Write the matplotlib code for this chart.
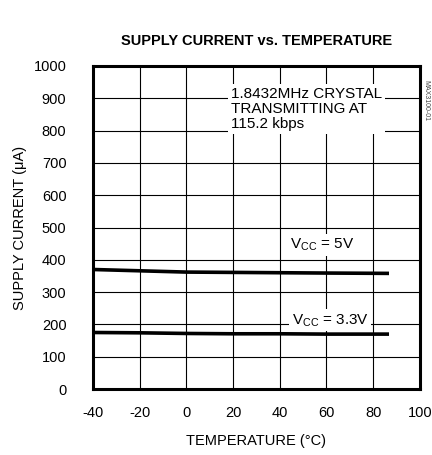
import matplotlib.pyplot as plt

plt.rcParams['font.family'] = ['Liberation Sans', 'DejaVu Sans']
plt.rcParams['axes.unicode_minus'] = False

# data
temp_5v = [-40, -20, 0, 20, 40, 60, 86]
icc_5v = [370, 366, 362, 361, 360, 359, 358]
temp_33v = [-40, -20, 0, 20, 40, 60, 86]
icc_33v = [175, 174, 172, 171, 171, 170, 170]

x_ticks = [-40, -20, 0, 20, 40, 60, 80, 100]
y_ticks = [0, 100, 200, 300, 400, 500, 600, 700, 800, 900, 1000]

fig = plt.figure(figsize=(4.32, 4.55), dpi=100)
ax = fig.add_axes([0.215, 0.145, 0.757, 0.71])

ax.plot(temp_5v, icc_5v, color='black', lw=2.6, zorder=3)
ax.plot(temp_33v, icc_33v, color='black', lw=2.6, zorder=3)

ax.set_xlim(-40, 100)
ax.set_ylim(0, 1000)
ax.set_xticks(x_ticks)
ax.set_yticks(y_ticks)
ax.grid(True, color='black', lw=0.8)
ax.tick_params(length=0, labelsize=10.5)
ax.tick_params(axis='y', pad=19)
ax.tick_params(axis='x', pad=12)
for s in ax.spines.values():
    s.set_linewidth(2.2)

ax.set_xlabel('TEMPERATURE (°C)', fontsize=10.5, labelpad=10)
ax.set_ylabel('SUPPLY CURRENT (μA)', fontsize=10.5, labelpad=5)
ax.set_title('SUPPLY CURRENT vs. TEMPERATURE', fontsize=10.5, fontweight='bold', pad=15)

box = dict(facecolor='white', edgecolor='none', pad=2)
ax.text(19, 935, '1.8432MHz CRYSTAL\nTRANSMITTING AT\n115.2 kbps', fontsize=11,
        ha='left', va='top', linespacing=1.1, bbox=box, zorder=4)
ax.text(58, 446, 'V$_{\\mathregular{CC}}$ = 5V', fontsize=11, ha='center', va='center',
        bbox=box, zorder=4)
ax.text(61.5, 213, 'V$_{\\mathregular{CC}}$ = 3.3V', fontsize=11, ha='center', va='center',
        bbox=box, zorder=4)

fig.text(0.985, 0.78, 'MAX3100-01', fontsize=5, rotation=270, ha='center', va='center',
         color='#444444')

fig.savefig('out.png', dpi=100)
